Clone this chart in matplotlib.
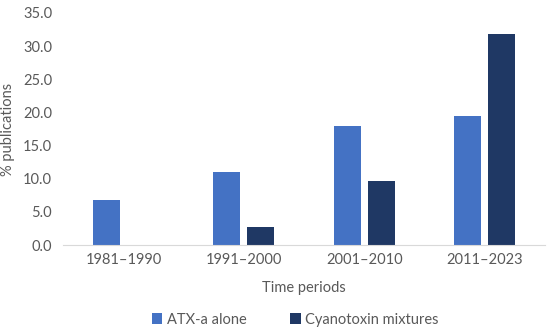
import numpy as np
import matplotlib.pyplot as plt

periods = ['1981\u20131990', '1991\u20132000', '2001\u20132010', '2011\u20132023']
atx_alone = [6.8, 11.0, 18.0, 19.4]
mixtures = [0.0, 2.7, 9.7, 31.9]
y_ticks = [0, 5, 10, 15, 20, 25, 30, 35]

plt.rcParams['font.family'] = ['Lato', 'DejaVu Sans']
grey = '#595959'
fs = 10.5

fig = plt.figure(figsize=(5.5, 3.33), dpi=100)
ax = fig.add_axes([0.115, 0.264, 0.876, 0.697])

x = np.arange(len(periods))
w = 0.224
off = 0.141
ax.bar(x - off, atx_alone, w, color='#4472C4', label='ATX-a alone')
ax.bar(x + off, mixtures, w, color='#1F3864', label='Cyanotoxin mixtures')

ax.set_xlim(-0.5, len(periods) - 0.5)
ax.set_ylim(0, 35)
ax.set_yticks(y_ticks)
ax.set_yticklabels([f'{v:.1f}' for v in y_ticks])
ax.set_xticks(x)
ax.set_xticklabels(periods)
ax.tick_params(axis='both', length=0, labelsize=fs, colors=grey)
ax.tick_params(axis='y', pad=8)
ax.tick_params(axis='x', pad=6)

for s in ['top', 'right', 'left']:
    ax.spines[s].set_visible(False)
ax.spines['bottom'].set_color('#d9d9d9')

ax.set_ylabel('% publications', fontsize=fs, color=grey, labelpad=6)
ax.set_xlabel('Time periods', fontsize=fs, color=grey, labelpad=10)

fig.legend(loc='center', bbox_to_anchor=(0.537, 0.04), ncol=2, frameon=False,
           fontsize=fs, labelcolor=grey, handlelength=0.7, handleheight=0.7,
           handletextpad=0.3, columnspacing=3.0)

fig.savefig('out.png', dpi=100)
